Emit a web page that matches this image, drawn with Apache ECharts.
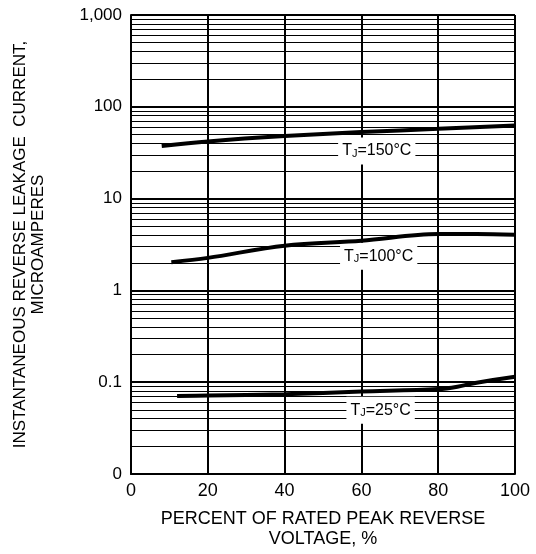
<!DOCTYPE html>
<html>
<head>
<meta charset="utf-8">
<script src="https://cdn.jsdelivr.net/npm/echarts@6/dist/echarts.min.js"></script>
<style>
  html, body { margin: 0; padding: 0; background: #fff; }
  #chart { width: 536px; height: 554px; }
</style>
</head>
<body>
<div id="chart"></div>
<script>
// percent of rated peak reverse voltage
var x150 = [8, 20, 40, 60, 80, 100];
var y150 = [37.5, 42, 48, 53, 57.5, 62.5];
var x100 = [10.5, 20, 40, 60, 80, 90, 100];
var y100 = [2.03, 2.26, 3.07, 3.48, 4.11, 4.12, 4.05];
var x25 = [12, 20, 40, 60, 80, 85, 90, 100];
var y25 = [0.0706, 0.0715, 0.074, 0.079, 0.0842, 0.0894, 0.0988, 0.1147];

var yTickLabels = ['0', '0.1', '1', '10', '100', '1,000'];   // 0.01 .. 1000
var decades = [0.01, 0.1, 1, 10, 100];
var minorSteps = [2, 3, 4, 5, 6, 7, 8, 9];

// label anchors (x %, y uA)
var tag150 = [64, 33];
var tag100 = [64.5, 2.35];
var tag25 = [65, 0.0495];

function pairs(xs, ys) {
  return xs.map(function (x, i) { return [x, ys[i]]; });
}

var minorLines = [];
decades.forEach(function (d) {
  minorSteps.forEach(function (m) {
    minorLines.push({ yAxis: d * m });
  });
});

var font = '"Liberation Sans", Arial, sans-serif';

function tag(coord, text) {
  return {
    symbolSize: 0,
    data: [{ coord: coord }],
    label: {
      show: true,
      position: 'inside',
      formatter: text,
      backgroundColor: '#fff',
      padding: [5, 4, 5, 4],
      rich: {
        t: { fontSize: 16, fontFamily: font, color: '#000' },
        s: { fontSize: 11, fontFamily: font, color: '#000', verticalAlign: 'bottom', padding: [6, 0, 0, 0] }
      }
    }
  };
}

function curve(xs, ys, text, coord, extra) {
  var s = {
    type: 'line',
    data: pairs(xs, ys),
    smooth: 0.35,
    symbol: 'none',
    lineStyle: { color: '#000', width: 4 },
    z: 5,
    markPoint: tag(coord, text)
  };
  if (extra) s.markLine = extra;
  return s;
}

var chart = echarts.init(document.getElementById('chart'));
chart.setOption({
  animation: false,
  backgroundColor: '#fff',
  grid: { left: 131, right: 21, top: 15, bottom: 78 },
  xAxis: {
    type: 'value',
    min: 0,
    max: 100,
    interval: 20,
    axisLine: { lineStyle: { color: '#000', width: 2 } },
    axisTick: { show: false },
    axisLabel: { color: '#000', fontSize: 18, fontFamily: font, margin: 8 },
    splitLine: { lineStyle: { color: '#000', width: 2 } },
    name: 'PERCENT OF RATED PEAK REVERSE\nVOLTAGE, %',
    nameLocation: 'middle',
    nameGap: 35,
    nameTextStyle: { color: '#000', fontSize: 18, fontFamily: font, lineHeight: 20 }
  },
  yAxis: {
    type: 'log',
    logBase: 10,
    min: 0.01,
    max: 1000,
    splitNumber: 5,
    axisLine: { lineStyle: { color: '#000', width: 2 } },
    axisTick: { show: false },
    axisLabel: {
      color: '#000', fontSize: 17, fontFamily: font, margin: 9,
      formatter: function (v) {
        return yTickLabels[Math.round(Math.log10(v)) + 2];
      }
    },
    splitLine: { lineStyle: { color: '#000', width: 2 } },
    name: 'INSTANTANEOUS REVERSE LEAKAGE  CURRENT,\nMICROAMPERES',
    nameLocation: 'middle',
    nameGap: 84,
    nameTextStyle: { color: '#000', fontSize: 17, fontFamily: font, lineHeight: 18 }
  },
  series: [
    curve(x150, y150, '{t|T}{s|J}{t|=150°C}', tag150, {
      silent: true,
      symbol: 'none',
      label: { show: false },
      lineStyle: { color: '#000', width: 1.2, type: 'solid' },
      z: 1,
      data: minorLines
    }),
    curve(x100, y100, '{t|T}{s|J}{t|=100°C}', tag100),
    curve(x25, y25, '{t|T}{s|J}{t|=25°C}', tag25)
  ]
});
</script>
</body>
</html>
